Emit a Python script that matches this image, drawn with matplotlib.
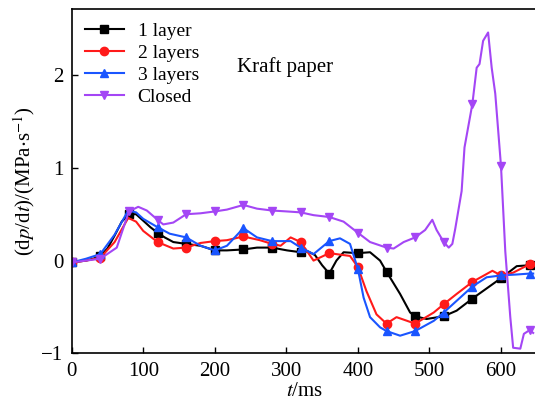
import matplotlib
matplotlib.use("Agg")
import matplotlib.pyplot as plt
import numpy as np

plt.rcParams['font.family'] = ['Liberation Serif', 'DejaVu Serif']
plt.rcParams['mathtext.fontset'] = 'stix'

# ---- data (time in ms, dp/dt in MPa/s) ----
t_1 = [0, 10, 20, 30, 40, 50, 60, 70, 80, 90, 100, 110, 120, 130, 142, 160, 180, 200, 217, 240,
       259, 280, 301, 320, 330, 340, 350, 360, 370, 380, 400, 417, 431, 440, 459, 473, 480,
       496, 520, 538, 560, 580, 600, 622, 640, 645]
y_1 = [-0.02, -0.01, 0.0, 0.02, 0.05, 0.13, 0.27, 0.42, 0.50, 0.50, 0.43, 0.36, 0.30, 0.25, 0.20,
       0.18, 0.16, 0.11, 0.11, 0.12, 0.14, 0.14, 0.11, 0.09, 0.10, 0.06, -0.05, -0.14, 0.0, 0.09,
       0.08, 0.09, 0.0, -0.12, -0.36, -0.56, -0.60, -0.63, -0.60, -0.54, -0.41, -0.30, -0.19,
       -0.06, -0.05, -0.05]

t_2 = [0, 20, 40, 60, 79, 90, 100, 120, 142, 160, 180, 200, 217, 240, 263, 280, 292, 306, 320,
       338, 360, 389, 400, 412, 426, 440, 454, 480, 506, 520, 538, 560, 588, 600, 617, 640, 645]
y_2 = [-0.02, 0.0, 0.03, 0.2, 0.46, 0.42, 0.32, 0.20, 0.13, 0.14, 0.19, 0.21, 0.22, 0.26, 0.22,
       0.18, 0.16, 0.25, 0.20, 0.0, 0.08, 0.05, -0.07, -0.33, -0.58, -0.68, -0.61, -0.68, -0.56,
       -0.47, -0.36, -0.23, -0.11, -0.16, -0.13, -0.04, -0.04]

t_3 = [0, 20, 40, 60, 79, 90, 100, 120, 137, 160, 180, 200, 217, 240, 259, 280, 306, 320, 338,
       360, 375, 389, 400, 408, 417, 431, 440, 459, 480, 506, 520, 560, 580, 600, 622, 640, 645]
y_3 = [-0.02, 0.02, 0.07, 0.28, 0.54, 0.52, 0.45, 0.36, 0.29, 0.25, 0.16, 0.11, 0.16, 0.35, 0.25,
       0.21, 0.21, 0.14, 0.07, 0.21, 0.24, 0.18, -0.09, -0.40, -0.61, -0.72, -0.76, -0.81, -0.76,
       -0.65, -0.56, -0.28, -0.18, -0.16, -0.15, -0.14, -0.14]

t_c = [0, 20, 40, 63, 80, 93, 105, 120, 128, 142, 160, 180, 200, 217, 240, 259, 280, 301, 320,
       338, 360, 380, 400, 417, 440, 450, 464, 480, 494, 504, 510, 520, 527, 532, 536, 545,
       549, 560, 566, 570, 575, 582, 587, 592, 600, 606, 613, 617, 627, 632, 640, 645]
y_c = [-0.02, 0.0, 0.02, 0.14, 0.53, 0.58, 0.54, 0.44, 0.39, 0.41, 0.50, 0.51, 0.53, 0.55, 0.60,
       0.56, 0.54, 0.53, 0.52, 0.49, 0.47, 0.42, 0.30, 0.20, 0.14, 0.13, 0.20, 0.25, 0.33, 0.44,
       0.33, 0.20, 0.14, 0.18, 0.34, 0.75, 1.22, 1.69, 2.08, 2.12, 2.37, 2.46, 2.08, 1.80, 1.02,
       0.10, -0.61, -0.94, -0.95, -0.79, -0.75, -0.78]

labels = ['1 layer', '2 layers', '3 layers', 'Closed']
colors = ['#000000', '#FF1A1A', '#1A55FF', '#A446F5']
markers = ['s', 'o', '^', 'v']
series = [(t_1, y_1), (t_2, y_2), (t_3, y_3), (t_c, y_c)]

fig = plt.figure(figsize=(5.35, 4.03), dpi=100)
ax = fig.add_axes([0.134, 0.1233, 0.8693, 0.8536])

for (t, y), lab, c, m in zip(series, labels, colors, markers):
    t = np.asarray(t)
    idx = [i for i, v in enumerate(t) if v % 40 == 0]
    ax.plot(t, y, color=c, lw=1.5, marker=m, markersize=6, markevery=idx, label=lab)

ax.set_xlim(0, 650)
ax.set_ylim(-1, 2.71)
ax.set_xticks([0, 100, 200, 300, 400, 500, 600])
ax.set_yticks([-1, 0, 1, 2])
ax.tick_params(direction='in', length=4, width=1, labelsize=15)
ax.tick_params(axis='x', pad=6)
ax.tick_params(axis='y', pad=6)
for s in ax.spines.values():
    s.set_linewidth(1.2)

ax.set_xlabel(r'$t$/ms', fontsize=15, labelpad=1)
ax.set_ylabel(r'(d$p$/d$t$)/(MPa$\cdot$s$^{-1}$)', fontsize=15, labelpad=3)

ax.text(231, 2.09, 'Kraft paper', fontsize=15, va='center', ha='left')

leg = ax.legend(loc='upper left', frameon=False, fontsize=14, handlelength=2.0,
                handletextpad=0.7, labelspacing=0.22, borderaxespad=0.0,
                bbox_to_anchor=(0.012, 0.985))

fig.savefig('out.png', dpi=100)
